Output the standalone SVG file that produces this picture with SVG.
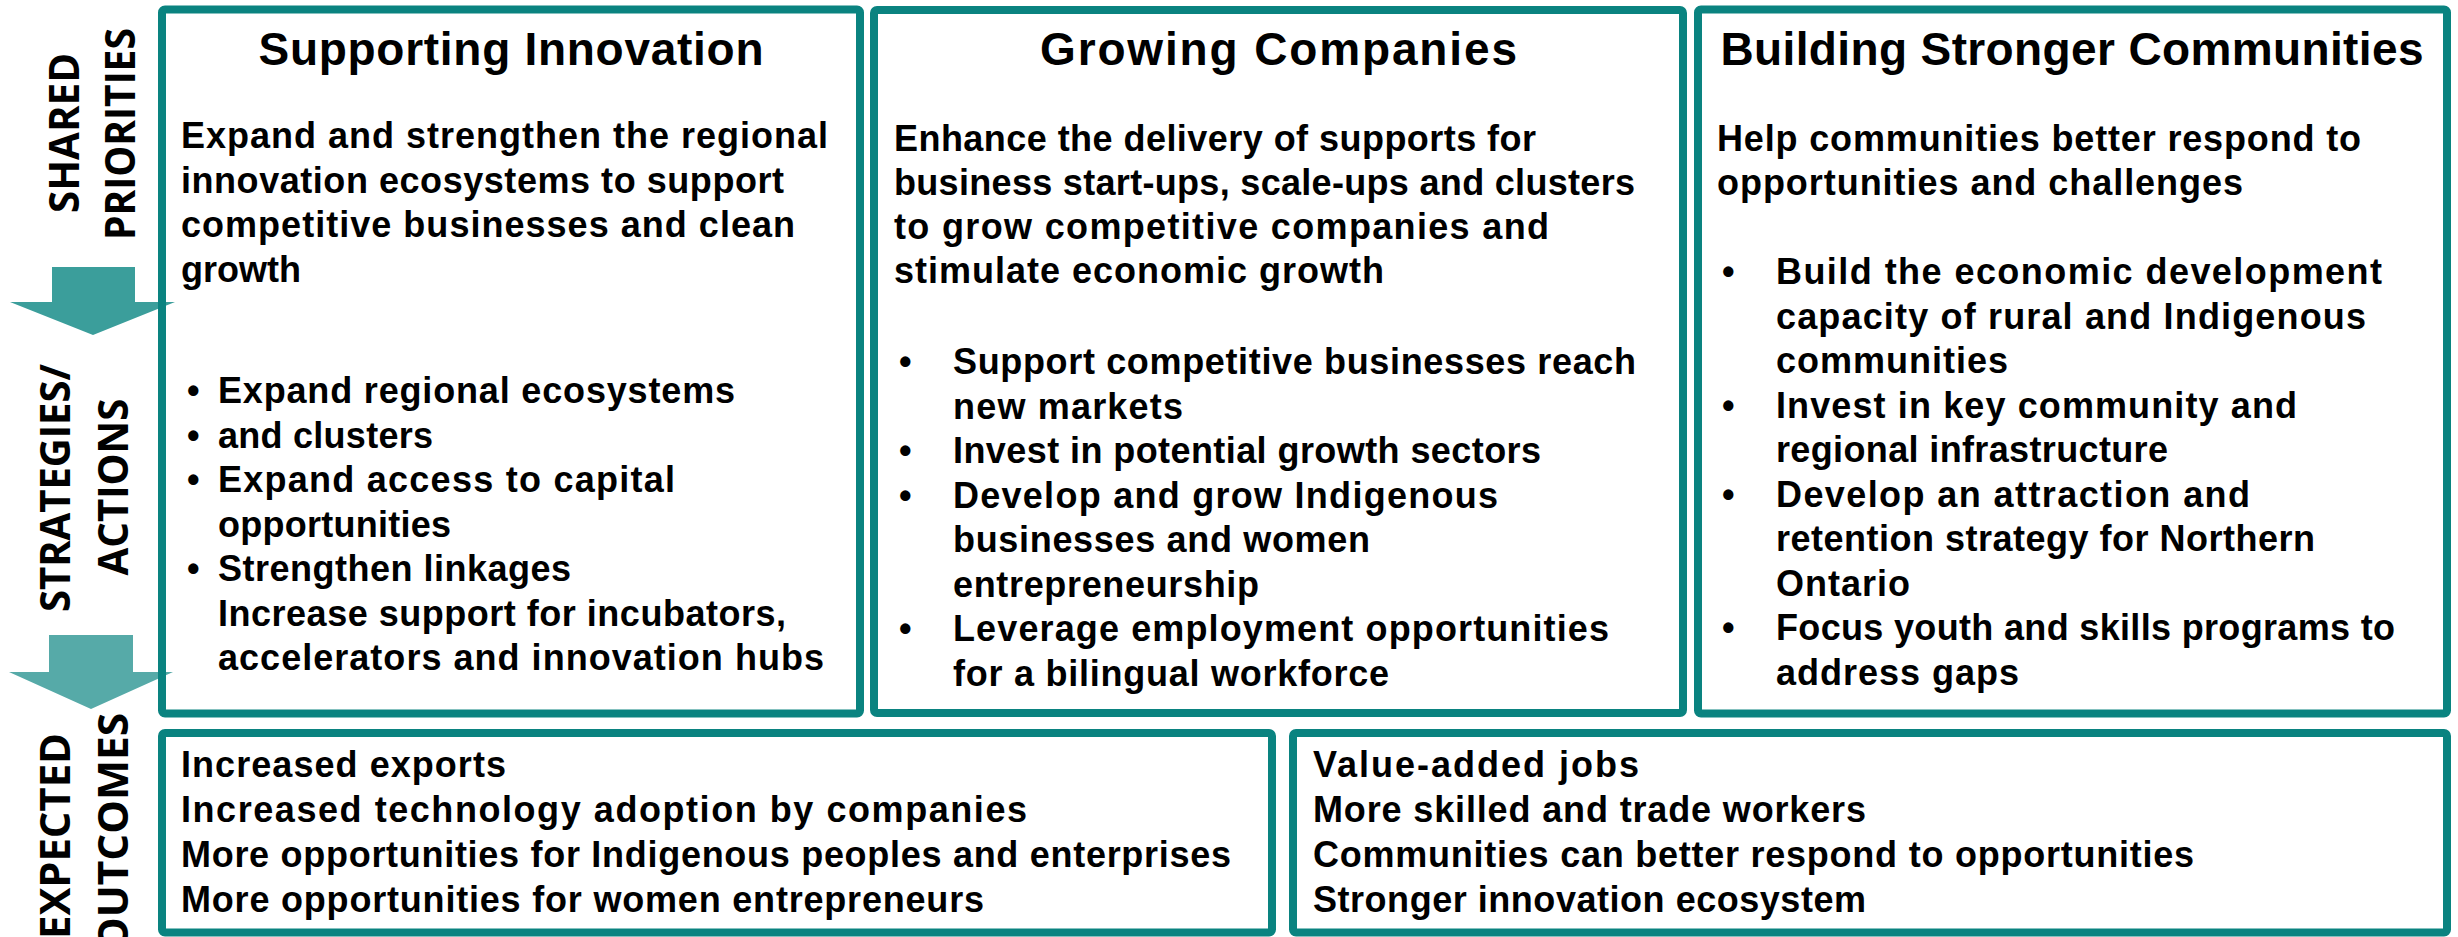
<svg xmlns="http://www.w3.org/2000/svg" width="2458" height="937" viewBox="0 0 2458 937">
<style>
.t{font-family:"Liberation Sans",Arial,sans-serif;font-weight:bold;font-size:36px;fill:#000}
.h{font-size:46px;text-anchor:middle}
.v{font-family:"Open Sans","Liberation Sans",sans-serif;font-weight:bold;font-size:42px;fill:#000;text-anchor:middle}
.box{fill:none;stroke:#0a8380;stroke-width:8}
</style>
<rect width="2458" height="937" fill="#fff"/>
<g id="connectors">
<polygon points="52,267 135,267 135,302 175,302 93,335 10,302 52,302" fill="#3b9e9b"/>
<polygon points="49,635 133,635 133,672 173,672 91,709 9,672 49,672" fill="#56aaa8"/>
</g>
<g id="stage-labels">
<text class="v" transform="translate(79,133) rotate(-90)" textLength="160" lengthAdjust="spacingAndGlyphs">SHARED</text>
<text class="v" transform="translate(135,134) rotate(-90)" textLength="212" lengthAdjust="spacingAndGlyphs">PRIORITIES</text>
<text class="v" transform="translate(70,488) rotate(-90)" textLength="248" lengthAdjust="spacingAndGlyphs">STRATEGIES/</text>
<text class="v" transform="translate(128,487) rotate(-90)" textLength="177" lengthAdjust="spacingAndGlyphs">ACTIONS</text>
<text class="v" transform="translate(70,836) rotate(-90)" textLength="206" lengthAdjust="spacingAndGlyphs">EXPECTED</text>
<text class="v" transform="translate(128,832) rotate(-90)" textLength="238" lengthAdjust="spacingAndGlyphs">OUTCOMES</text>
</g>
<g id="box-innovation">
<rect class="box" x="162" y="9.5" width="698" height="704" rx="3"/>
<text class="t h" x="511" y="65" textLength="505">Supporting Innovation</text>
<text class="t" x="181" y="148" textLength="647">Expand and strengthen the regional</text>
<text class="t" x="181" y="193" textLength="603">innovation ecosystems to support</text>
<text class="t" x="181" y="237" textLength="614">competitive businesses and clean</text>
<text class="t" x="181" y="282" textLength="120">growth</text>
<text class="t" x="187" y="403">•</text>
<text class="t" x="187" y="447.5">•</text>
<text class="t" x="187" y="492">•</text>
<text class="t" x="187" y="581">•</text>
<text class="t" x="218" y="403" textLength="517">Expand regional ecosystems</text>
<text class="t" x="218" y="447.5" textLength="215">and clusters</text>
<text class="t" x="218" y="492" textLength="457">Expand access to capital</text>
<text class="t" x="218" y="536.5" textLength="233">opportunities</text>
<text class="t" x="218" y="581" textLength="353">Strengthen linkages</text>
<text class="t" x="218" y="625.5" textLength="568">Increase support for incubators,</text>
<text class="t" x="218" y="670" textLength="606">accelerators and innovation hubs</text>
</g>
<g id="box-companies">
<rect class="box" x="874" y="10" width="809" height="703" rx="3"/>
<text class="t h" x="1278.5" y="65" textLength="477">Growing Companies</text>
<text class="t" x="894" y="151" textLength="642">Enhance the delivery of supports for</text>
<text class="t" x="894" y="195" textLength="741">business start-ups, scale-ups and clusters</text>
<text class="t" x="894" y="239" textLength="655">to grow competitive companies and</text>
<text class="t" x="894" y="283" textLength="490">stimulate economic growth</text>
<text class="t" x="899" y="374">•</text>
<text class="t" x="899" y="463">•</text>
<text class="t" x="899" y="507.5">•</text>
<text class="t" x="899" y="641">•</text>
<text class="t" x="953" y="374" textLength="683">Support competitive businesses reach</text>
<text class="t" x="953" y="418.5" textLength="230">new markets</text>
<text class="t" x="953" y="463" textLength="588">Invest in potential growth sectors</text>
<text class="t" x="953" y="507.5" textLength="545">Develop and grow Indigenous</text>
<text class="t" x="953" y="552" textLength="417">businesses and women</text>
<text class="t" x="953" y="596.5" textLength="306">entrepreneurship</text>
<text class="t" x="953" y="641" textLength="656">Leverage employment opportunities</text>
<text class="t" x="953" y="685.5" textLength="436">for a bilingual workforce</text>
</g>
<g id="box-communities">
<rect class="box" x="1698" y="9.5" width="749" height="704" rx="3"/>
<text class="t h" x="2072" y="65" textLength="703">Building Stronger Communities</text>
<text class="t" x="1717" y="151" textLength="644">Help communities better respond to</text>
<text class="t" x="1717" y="195" textLength="526">opportunities and challenges</text>
<text class="t" x="1722" y="284">•</text>
<text class="t" x="1722" y="417.5">•</text>
<text class="t" x="1722" y="506.5">•</text>
<text class="t" x="1722" y="640">•</text>
<text class="t" x="1776" y="284" textLength="606">Build the economic development</text>
<text class="t" x="1776" y="328.5" textLength="590">capacity of rural and Indigenous</text>
<text class="t" x="1776" y="373" textLength="232">communities</text>
<text class="t" x="1776" y="417.5" textLength="521">Invest in key community and</text>
<text class="t" x="1776" y="462" textLength="392">regional infrastructure</text>
<text class="t" x="1776" y="506.5" textLength="474">Develop an attraction and</text>
<text class="t" x="1776" y="551" textLength="539">retention strategy for Northern</text>
<text class="t" x="1776" y="595.5" textLength="134">Ontario</text>
<text class="t" x="1776" y="640" textLength="619">Focus youth and skills programs to</text>
<text class="t" x="1776" y="684.5" textLength="243">address gaps</text>
</g>
<g id="box-outcomes-left">
<rect class="box" x="162" y="733" width="1110" height="199.5" rx="3"/>
<text class="t" x="181" y="777" textLength="325">Increased exports</text>
<text class="t" x="181" y="822" textLength="846">Increased technology adoption by companies</text>
<text class="t" x="181" y="867" textLength="1050">More opportunities for Indigenous peoples and enterprises</text>
<text class="t" x="181" y="912" textLength="803">More opportunities for women entrepreneurs</text>
</g>
<g id="box-outcomes-right">
<rect class="box" x="1293" y="733" width="1154" height="199.5" rx="3"/>
<text class="t" x="1313" y="777" textLength="326">Value-added jobs</text>
<text class="t" x="1313" y="822" textLength="553">More skilled and trade workers</text>
<text class="t" x="1313" y="867" textLength="881">Communities can better respond to opportunities</text>
<text class="t" x="1313" y="912" textLength="553">Stronger innovation ecosystem</text>
</g>
</svg>
